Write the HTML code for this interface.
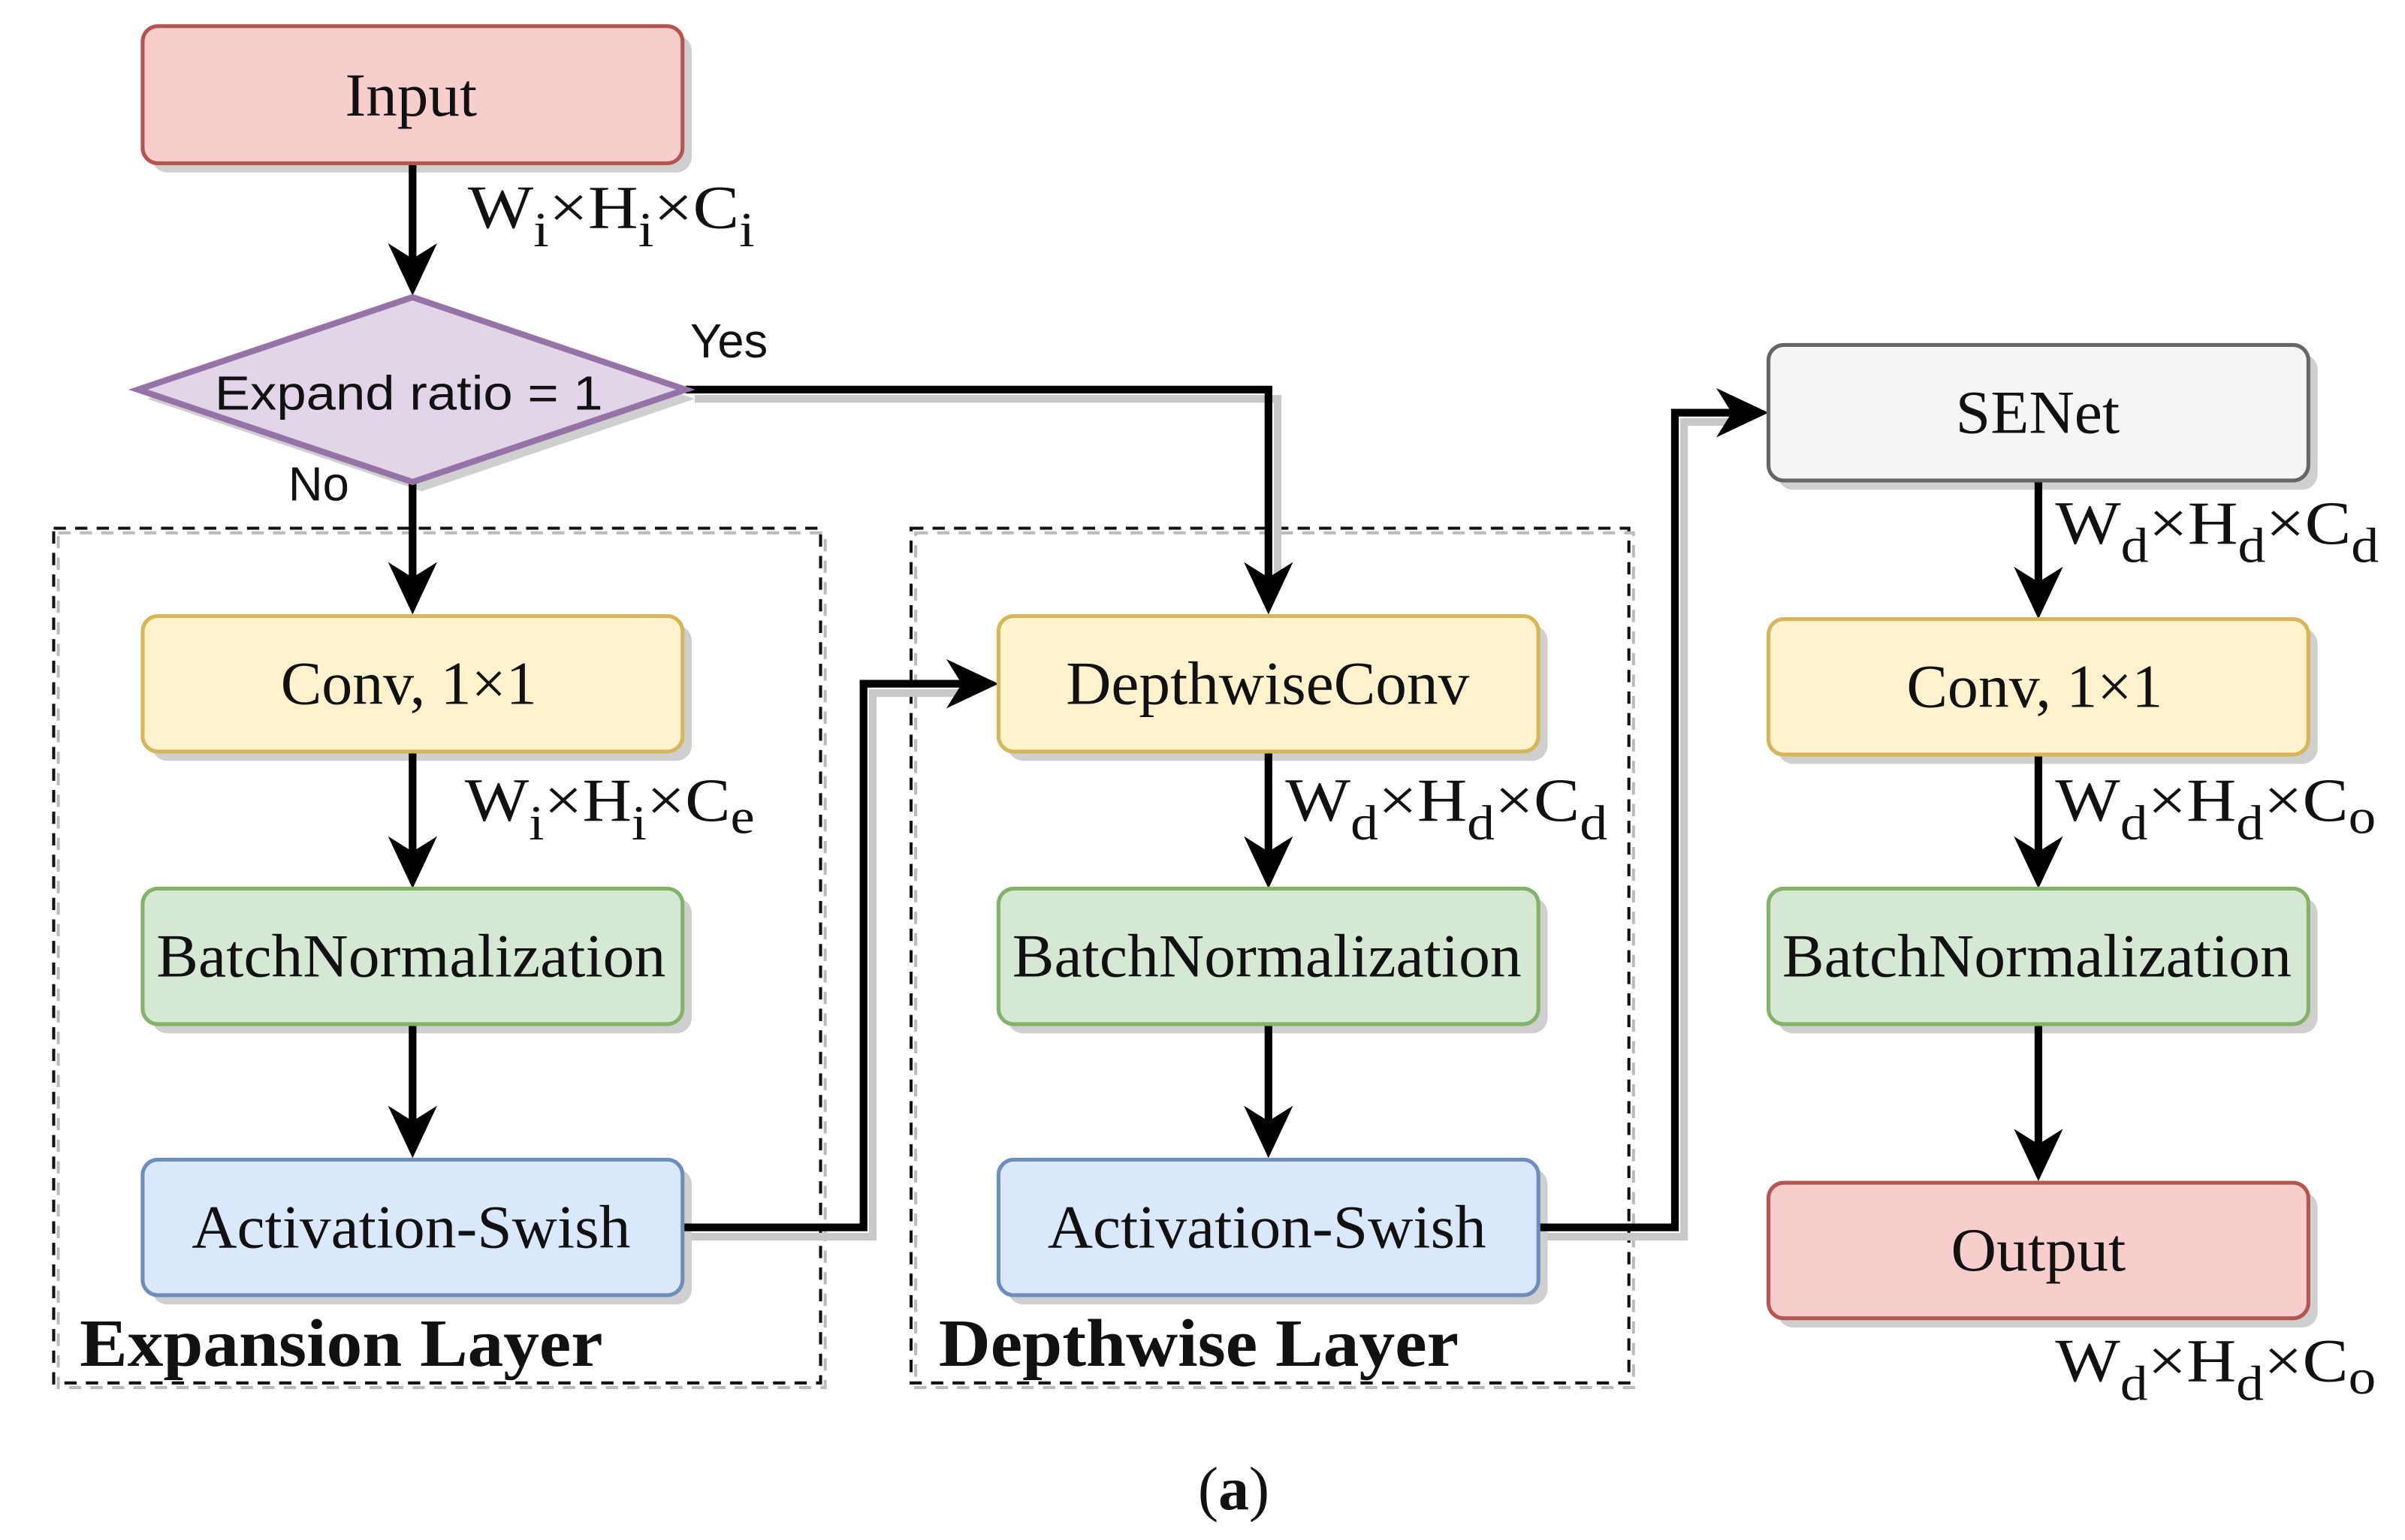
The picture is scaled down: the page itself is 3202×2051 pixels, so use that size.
<!DOCTYPE html>
<html><head><meta charset="utf-8"><style>
html,body{margin:0;padding:0;background:#fff;}
svg{display:block;}
.t{font-family:"Liberation Serif",serif;font-size:40px;fill:#111;}
.s{font-family:"Liberation Sans",sans-serif;font-size:31px;fill:#111;}
.b{font-family:"Liberation Serif",serif;font-size:44px;font-weight:bold;fill:#111;}
</style></head><body>
<svg width="3202" height="2051" viewBox="0 0 1568 1000" preserveAspectRatio="none" xmlns="http://www.w3.org/2000/svg">
<g fill="#cfcfcf">
<rect x="99" y="23" width="352" height="89" rx="10"/>
<polygon points="96,259 275,199 453,259 275,319"/>
<rect x="99" y="406" width="352" height="88" rx="10"/>
<rect x="99" y="583" width="352" height="88" rx="10"/>
<rect x="99" y="759" width="352" height="88" rx="10"/>
<rect x="657" y="406" width="352" height="88" rx="10"/>
<rect x="657" y="583" width="352" height="88" rx="10"/>
<rect x="657" y="759" width="352" height="88" rx="10"/>
<rect x="1159" y="230" width="352" height="88" rx="10"/>
<rect x="1159" y="408" width="352" height="88" rx="10"/>
<rect x="1159" y="583" width="352" height="88" rx="10"/>
<rect x="1159" y="774" width="352" height="88" rx="10"/>
</g>
<rect x="38" y="346" width="500" height="555" fill="none" stroke="#bbb" stroke-width="2" stroke-dasharray="8,6"/>
<rect x="35" y="343" width="500" height="555" fill="none" stroke="#111" stroke-width="2" stroke-dasharray="8,6"/>
<rect x="597" y="346" width="468" height="555" fill="none" stroke="#bbb" stroke-width="2" stroke-dasharray="8,6"/>
<rect x="594" y="343" width="468" height="555" fill="none" stroke="#111" stroke-width="2" stroke-dasharray="8,6"/>
<g fill="none" stroke="#c8c8c8" stroke-width="5">
<polyline points="453,259 833,259 833,380"/>
<polyline points="451,803 569,803 569,450 630,450"/>
<polyline points="1009,803 1098,803 1098,274 1130,274"/>
</g>
<g fill="none" stroke="#000" stroke-width="5">
<line x1="269" y1="106" x2="269" y2="170"/>
<polyline points="447,253 827,253 827,377"/>
<line x1="269" y1="313" x2="269" y2="377"/>
<line x1="269" y1="488" x2="269" y2="555"/>
<line x1="269" y1="665" x2="269" y2="730"/>
<line x1="827" y1="488" x2="827" y2="555"/>
<line x1="827" y1="665" x2="827" y2="730"/>
<line x1="1329" y1="312" x2="1329" y2="380"/>
<line x1="1329" y1="490" x2="1329" y2="555"/>
<line x1="1329" y1="665" x2="1329" y2="745"/>
<polyline points="445,797 563,797 563,444 628,444"/>
<polyline points="1003,797 1092,797 1092,268 1130,268"/>
</g>
<g fill="#000">
<path d="M269,192 L253,158 L269,168 L285,158 Z"/>
<path d="M269,399 L253,365 L269,375 L285,365 Z"/>
<path d="M269,577 L253,543 L269,553 L285,543 Z"/>
<path d="M269,752 L253,718 L269,728 L285,718 Z"/>
<path d="M827,399 L811,365 L827,375 L843,365 Z"/>
<path d="M827,577 L811,543 L827,553 L843,543 Z"/>
<path d="M827,752 L811,718 L827,728 L843,718 Z"/>
<path d="M1329,402 L1313,368 L1329,378 L1345,368 Z"/>
<path d="M1329,577 L1313,543 L1329,553 L1345,543 Z"/>
<path d="M1329,767 L1313,733 L1329,743 L1345,733 Z"/>
<path d="M651,444 L617,428 L627,444 L617,460 Z"/>
<path d="M1153,268 L1119,252 L1129,268 L1119,284 Z"/>
</g>
<rect x="93" y="17" width="352" height="89" rx="10" fill="#f8cecc" stroke="#b85450" stroke-width="2.5"/>
<polygon points="90,253 269,193 447,253 269,313" fill="#e1d5e7" stroke="#9673a6" stroke-width="4"/>
<rect x="93" y="400" width="352" height="88" rx="10" fill="#fff2cc" stroke="#d6b656" stroke-width="2.5"/>
<rect x="93" y="577" width="352" height="88" rx="10" fill="#d5e8d4" stroke="#82b366" stroke-width="2.5"/>
<rect x="93" y="753" width="352" height="88" rx="10" fill="#dae8fc" stroke="#6c8ebf" stroke-width="2.5"/>
<rect x="651" y="400" width="352" height="88" rx="10" fill="#fff2cc" stroke="#d6b656" stroke-width="2.5"/>
<rect x="651" y="577" width="352" height="88" rx="10" fill="#d5e8d4" stroke="#82b366" stroke-width="2.5"/>
<rect x="651" y="753" width="352" height="88" rx="10" fill="#dae8fc" stroke="#6c8ebf" stroke-width="2.5"/>
<rect x="1153" y="224" width="352" height="88" rx="10" fill="#f5f5f5" stroke="#666" stroke-width="2.5"/>
<rect x="1153" y="402" width="352" height="88" rx="10" fill="#fff2cc" stroke="#d6b656" stroke-width="2.5"/>
<rect x="1153" y="577" width="352" height="88" rx="10" fill="#d5e8d4" stroke="#82b366" stroke-width="2.5"/>
<rect x="1153" y="768" width="352" height="88" rx="10" fill="#f8cecc" stroke="#b85450" stroke-width="2.5"/>
<text class="t" x="225" y="75" textLength="86" lengthAdjust="spacingAndGlyphs">Input</text>
<text class="s" x="140" y="266" textLength="253" lengthAdjust="spacingAndGlyphs">Expand ratio = 1</text>
<text class="s" x="450" y="232">Yes</text>
<text class="s" x="188" y="325">No</text>
<text class="t" x="183" y="457" textLength="167" lengthAdjust="spacingAndGlyphs">Conv, 1×1</text>
<text class="t" x="102" y="634" textLength="332" lengthAdjust="spacingAndGlyphs">BatchNormalization</text>
<text class="t" x="125" y="810" textLength="286" lengthAdjust="spacingAndGlyphs">Activation-Swish</text>
<text class="t" x="695" y="457" textLength="263" lengthAdjust="spacingAndGlyphs">DepthwiseConv</text>
<text class="t" x="660" y="634" textLength="332" lengthAdjust="spacingAndGlyphs">BatchNormalization</text>
<text class="t" x="683" y="810" textLength="286" lengthAdjust="spacingAndGlyphs">Activation-Swish</text>
<text class="t" x="1275" y="281" textLength="107" lengthAdjust="spacingAndGlyphs" fill="#333">SENet</text>
<text class="t" x="1243" y="459" textLength="167" lengthAdjust="spacingAndGlyphs">Conv, 1×1</text>
<text class="t" x="1162" y="634" textLength="332" lengthAdjust="spacingAndGlyphs">BatchNormalization</text>
<text class="t" x="1272" y="825" textLength="114" lengthAdjust="spacingAndGlyphs">Output</text>
<text class="b" x="52" y="887" textLength="341" lengthAdjust="spacingAndGlyphs">Expansion Layer</text>
<text class="b" x="612" y="887" textLength="339" lengthAdjust="spacingAndGlyphs">Depthwise Layer</text>
<text class="t" x="781" y="980" font-size="38">(<tspan font-weight="bold">a</tspan>)</text>
<text class="t" font-size="46" x="305" y="148" textLength="187" lengthAdjust="spacingAndGlyphs">W<tspan font-size="32" dy="12">i</tspan><tspan dy="-12">×H</tspan><tspan font-size="32" dy="12">i</tspan><tspan dy="-12">×C</tspan><tspan font-size="32" dy="12">i</tspan></text>
<text class="t" font-size="46" x="303" y="533" textLength="189" lengthAdjust="spacingAndGlyphs">W<tspan font-size="32" dy="12">i</tspan><tspan dy="-12">×H</tspan><tspan font-size="32" dy="12">i</tspan><tspan dy="-12">×C</tspan><tspan font-size="32" dy="8">e</tspan></text>
<text class="t" font-size="46" x="838" y="533" textLength="210" lengthAdjust="spacingAndGlyphs">W<tspan font-size="32" dy="12">d</tspan><tspan dy="-12">×H</tspan><tspan font-size="32" dy="12">d</tspan><tspan dy="-12">×C</tspan><tspan font-size="32" dy="12">d</tspan></text>
<text class="t" font-size="46" x="1340" y="353" textLength="211" lengthAdjust="spacingAndGlyphs">W<tspan font-size="32" dy="12">d</tspan><tspan dy="-12">×H</tspan><tspan font-size="32" dy="12">d</tspan><tspan dy="-12">×C</tspan><tspan font-size="32" dy="12">d</tspan></text>
<text class="t" font-size="46" x="1340" y="533" textLength="209" lengthAdjust="spacingAndGlyphs">W<tspan font-size="32" dy="12">d</tspan><tspan dy="-12">×H</tspan><tspan font-size="32" dy="12">d</tspan><tspan dy="-12">×C</tspan><tspan font-size="32" dy="8">o</tspan></text>
<text class="t" font-size="46" x="1340" y="897" textLength="209" lengthAdjust="spacingAndGlyphs">W<tspan font-size="32" dy="12">d</tspan><tspan dy="-12">×H</tspan><tspan font-size="32" dy="12">d</tspan><tspan dy="-12">×C</tspan><tspan font-size="32" dy="8">o</tspan></text>
</svg>
</body></html>
